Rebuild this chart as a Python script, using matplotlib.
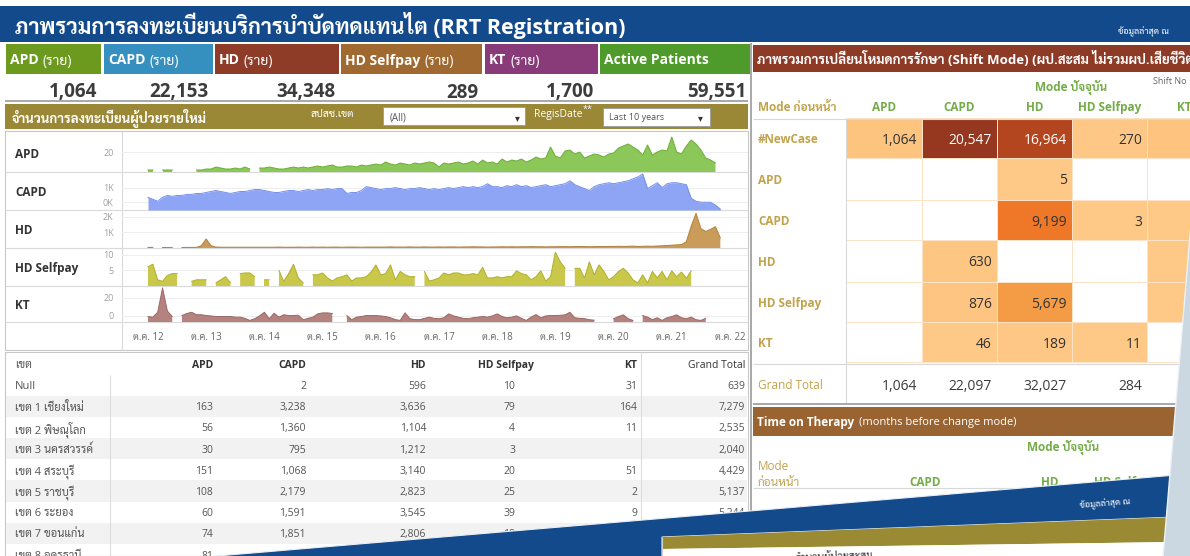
import numpy as np
import matplotlib
matplotlib.use('Agg')
import matplotlib.pyplot as plt
from matplotlib import font_manager
from matplotlib.colors import LinearSegmentedColormap, Normalize
from matplotlib.patches import Rectangle, Polygon

nan = np.nan

# ---------------- data ----------------
kpi_names = ['APD', 'CAPD', 'HD', 'HD Selfpay', 'KT', 'Active Patients']
kpi_values = ['1,064', '22,153', '34,348', '289', '1,700', '59,551']
kpi_colors = ['#6b9a1f', '#3590c0', '#8e3b27', '#a0692f', '#893a78', '#4e9a2a']

# monthly new registrations, first point = Oct 2012
apd = [2, 2, nan, 2, 2, 2, nan, nan, 1, nan, 2, 2,
       3, 3, 5, 4, 3, 3, 4, 3, 5, 3, nan, 4,
       4, 5, 4, 3, 3, 4, 5, 4, 5, 4, 5, 6,
       5, 6, 7, 5, 5, 6, 6, 5, 7, 6, 7, 8,
       7, 10, 8, 7, 9, 8, 7, 9, 8, 9, 10, 9,
       5, 9, 8, 9, 10, 8, 9, 11, 8, 12, 9, 10,
       8, 13, 10, 12, 11, 13, 10, 12, 15, 13, 14, 25,
       16, 14, 21, 22, 18, 20, 14, 16, 18, 17, 15, 18,
       19, 24, 26, 28, 25, 22, 17, 27, 17, 20, 22, 21,
       35, 20, 18, 26, 32, 28, 22, 14, 12, 9]
capd = [650, 550, 450, 650, 750, 700, 750, 750, 800, 800, 850, 850,
        900, 950, 1000, 950, 900, 850, 900, 950, 950, 1000, 1050, 1050,
        1000, 950, 900, 900, 950, 1000, 1000, 950, 1000, 1050, 1000, 1050,
        1050, 1100, 1050, 1100, 1100, 850, 900, 900, 1000, 1200, 1150, 1100,
        1050, 1100, 1100, 1150, 1100, 1050, 1100, 1100, 1150, 1100, 1050, 1100,
        1050, 1100, 1150, 1100, 1150, 1200, 1150, 1200, 1150, 1200, 1350, 1200,
        1200, 1150, 1250, 1200, 1300, 1200, 1250, 1150, 1200, 1250, 1300, 1200,
        1250, 1300, 1350, 1500, 1300, 1200, 1100, 1000, 1200, 1300, 1350, 1400,
        1350, 1400, 1450, 1500, 1600, 1700, 1850, 1100, 1250, 1400, 1150, 1350,
        1400, 1400, 1350, 1300, 600, 450, 400, 400, 400, 250, 50]
hd = [40, 40, nan, 30, 30, 40, nan, 30, 40, 40, 40, 150,
      580, 150, 60, 50, 50, 50, 50, 50, 50, 50, 50, 50,
      50, 50, 50, 60, 50, 50, 50, 60, 50, 50, 60, 50,
      60, 50, 60, 60, 50, 60, 60, 60, 50, 60, 60, 60,
      60, 60, 70, 60, 60, 60, 70, 60, 60, 70, 60, 60,
      70, 60, 70, 70, 60, 70, 70, 80, 70, 70, 60, 70,
      70, 80, 70, 80, 70, 80, 80, 90, 80, 80, 70, 80,
      80, 90, 90, 80, 90, 100, 90, 80, 90, 100, 90, 100,
      100, 110, 100, 110, 120, 100, 110, 120, 110, 130, 140, 160,
      180, 200, 220, 400, 1400, 2230, 1250, 1060, 1200, 1370, 650]
hd_selfpay = [6.2, 7, 2, 1.5, 3.4, 4, 4, nan, nan, 1.5, 2, 2,
              2, nan, 1, 2, 3, 1, nan, 4, 4.2, 4.2, 3, nan,
              2, 2, nan, 5, 1.5, 4, 7, 2.6, 1, nan, 3.6, 3.6,
              4.2, 2.6, 1.6, 2.6, 3, 3.6, 1.6, 2.6, 2.6, 3, 4.5, 6.8,
              3.6, 4, 6.8, 2, 4.7, 3.6, 3, 3, nan, 4.7, 1.6, 2,
              2.6, 4.2, 3.6, 4.2, 4.2, 3.6, 3.6, 4, 3.6, 6, 2.6, 2.6,
              3, 2.6, 3, 3, 4.9, 4, 3.6, 2, 3, 4.9, 1.6, 3,
              10.9, 7.8, 5.7, nan, 5.7, 5.7, 2.6, 7.8, 3.6, 6.8, 4.7, 2,
              3, 4.7, 5.7, 4.2, 2, 1, 3.6, 1, 4.7, 2.6, 4.7, 2,
              4.9, 3, 4.5, 2.5, 4.9]
kt = [4.5, 4, 8, 28, 9, 4.5, nan, 5.3, 7, 8, 6, 6,
      5.3, 5, 4.5, 4.5, 4.5, 4.5, 4, 4, 3, 1.3, 2.7, 5,
      8, 2.7, 7.2, 4, 6, 5.3, 5.3, 5.6, 1.9, 3, 4, 6.7,
      7.5, 7.5, 7, nan, nan, 5.3, 1.9, 4, 4.5, 5.3, 5.3, 5.3,
      5, 4.5, 3.5, 2, 1.3, 7.5, 2.7, 2, 1.9, 3, 4, 3,
      2.7, 3.5, 6.7, 5, 4, 3, 2.7, 3.5, 4, 4.5, 4, 5,
      6.7, 4.5, 3.5, 4, 5, 3, 1.3, 4, 6.1, 3.5, 5, 5.3,
      5.3, 5.5, 5.9, 8, 3.5, 3, 2.7, 1.9, 1.5, nan, nan, nan,
      2.7, 4.5, 5.9, 2.7, 1.3, nan, 5.3, 4, 1.9, 3.5, 1.3, 3.5,
      4.5, 5.9, 3.5, 2.7, 4, 1.9, 1.3, 3]

spark_names = ['APD', 'CAPD', 'HD', 'HD Selfpay', 'KT']
spark_series = [apd, capd, hd, hd_selfpay, kt]
spark_fill = ['#86c450', '#889ff5', '#c79750', '#c6c540', '#b07c78']
spark_line = ['#6cad36', '#7390ec', '#b4803a', '#b0af2c', '#9a6864']
spark_top = [38, 1900, 2375, 11.9, 28.8]
spark_ticks = [[20], [400, 1150], [1000, 2000], [5, 10], [5, 20]]
spark_ticklbl = [['20'], ['0K', '1K'], ['1K', '2K'], ['5', '10'], ['0', '20']]
year_ticks = [0, 12, 24, 36, 48, 60, 72, 84, 96, 108, 120]
year_lbls = ['ต.ค. %d' % y for y in range(12, 23)]

# region table
tbl_region = ['Null', 'เขต 1 เชียงใหม่', 'เขต 2 พิษณุโลก', 'เขต 3 นครสวรรค์', 'เขต 4 สระบุรี',
              'เขต 5 ราชบุรี', 'เขต 6 ระยอง', 'เขต 7 ขอนแก่น', 'เขต 8 อุดรธานี']
tbl_apd = ['', '163', '56', '30', '151', '108', '60', '74', '81']
tbl_capd = ['2', '3,238', '1,360', '795', '1,068', '2,179', '1,591', '1,851', '1,640']
tbl_hd = ['596', '3,636', '1,104', '1,212', '3,140', '2,823', '3,545', '2,806', '2,311']
tbl_selfpay = ['10', '79', '4', '3', '20', '25', '39', '18', '12']
tbl_kt = ['31', '164', '11', '', '51', '2', '9', '23', '40']
tbl_total = ['639', '7,279', '2,535', '2,040', '4,429', '5,137', '5,244', '4,772', '4,084']

# shift mode matrix (rows: previous mode, cols: current mode)
shift_rows = ['#NewCase', 'APD', 'CAPD', 'HD', 'HD Selfpay', 'KT']
shift_cols = ['APD', 'CAPD', 'HD', 'HD Selfpay', 'KT']
shift_vals = [[1064, 20547, 16964, 270, 1430],
              [nan, nan, 5, nan, nan],
              [nan, nan, 9199, 3, 60],
              [nan, 630, nan, nan, 40],
              [nan, 876, 5679, nan, 30],
              [nan, 46, 189, 11, nan]]
shift_total = ['1,064', '22,097', '32,027', '284', '1,560']

# ---------------- fonts ----------------
entries = font_manager.fontManager.ttflist


def has_bold(n):
    for f in entries:
        if f.name != n:
            continue
        w = f.weight
        if (isinstance(w, int) and w >= 600) or w in ('bold', 'semibold', 'demibold', 'heavy', 'black'):
            return True
    return False


latin = next((n for n in ['Noto Sans', 'Open Sans', 'Liberation Sans', 'Lato', 'DejaVu Sans']
              if has_bold(n)), 'DejaVu Sans')
thai = next((n for n in ['Sarabun', 'Noto Sans Thai', 'Noto Sans Thai UI', 'Bai Jamjuree', 'Athiti']
             if has_bold(n)), 'Noto Sans Thai')
plt.rcParams['font.family'] = [latin, thai, 'DejaVu Sans']

W, H = 1190, 556
fig = plt.figure(figsize=(W / 100, H / 100), dpi=100)
fig.patch.set_facecolor('white')
ax = fig.add_axes([0, 0, 1, 1])
ax.set_xlim(0, W)
ax.set_ylim(H, 0)
ax.axis('off')
renderer = fig.canvas.get_renderer()


def box(x0, y0, x1, y1, fc, ec='none', lw=0, z=1):
    ax.add_patch(Rectangle((x0, y0), x1 - x0, y1 - y0, facecolor=fc,
                           edgecolor=ec, linewidth=lw, zorder=z))


def line(x0, y0, x1, y1, c='#d6d6d6', lw=0.8, z=2):
    ax.plot([x0, x1], [y0, y1], color=c, lw=lw, zorder=z, solid_capstyle='butt')


def T(x, y, s, size=8, color='#333333', weight='normal', ha='left', va='center_baseline', z=3, **kw):
    return ax.text(x, y, s, fontsize=size, color=color, fontweight=weight,
                   ha=ha, va=va, zorder=z, **kw)


def after(t, gap=3):
    return t.get_window_extent(renderer).x1 + gap


def px_axes(x0, y0, x1, y1):
    return fig.add_axes([x0 / W, 1 - y1 / H, (x1 - x0) / W, (y1 - y0) / H])


# ---------------- title bar ----------------
box(0, 6, W, 42, '#134a8c')
T(15, 23, 'ภาพรวมการลงทะเบียนบริการบำบัดทดแทนไต (RRT Registration)', size=15.5,
  color='white', weight='bold')
T(1118, 30, 'ข้อมูลล่าสุด ณ', size=6.5, color='white')

# ---------------- KPI tiles ----------------
kpi_left = [6, 104, 215, 341, 485, 600]
kpi_right = [101, 213, 339, 482, 598, 750]
for i, nm in enumerate(kpi_names):
    box(kpi_left[i], 44, kpi_right[i], 74, kpi_colors[i])
    t = T(kpi_left[i] + 4, 59, nm, size=10, color='white', weight='bold')
    if nm != 'Active Patients':
        T(after(t, 4), 59, '(ราย)', size=10, color='white')
    T(kpi_right[i] - 4, 90, kpi_values[i], size=13.5, color='#3c3c3c', ha='right',
      weight='bold')
line(5, 101, 748, 101, c='#9a9a9a', lw=1.2)

# ---------------- new registration panel ----------------
box(5, 104, 748, 129, '#9b8836')
T(12, 116, 'จำนวนการลงทะเบียนผู้ป่วยรายใหม่', size=9.5, color='white', weight='bold')
T(311, 113, 'สปสช.เขต', size=7.5, color='white')
box(383, 107, 525, 125, 'white', ec='#9a9a9a', lw=0.6, z=2)
T(390, 116, '(All)', size=7, color='#555555')
T(517, 117, '▾', size=7, color='#333333', ha='center', family='DejaVu Sans')
t = T(534, 113, 'RegisDate', size=7.5, color='white')
T(after(t, 0), 108, '**', size=6.5, color='white')
box(603, 108, 710, 126, 'white', ec='#9a9a9a', lw=0.6, z=2)
T(609, 117, 'Last 10 years', size=6.5, color='#555555')
T(700, 117, '▾', size=7, color='#333333', ha='center', family='DejaVu Sans')

box(5, 131, 748, 350, 'white', ec='#c8c8c8', lw=0.8, z=0.5)
spark_rows = [(133, 172), (172, 210), (210, 248), (248, 286), (286, 322)]
for (y0, y1) in spark_rows[1:]:
    line(5, y0, 748, y0, c='#dadada')
line(5, 322, 748, 322, c='#dadada')
line(122, 131, 122, 350, c='#dadada')

for i, (y0, y1) in enumerate(spark_rows):
    T(15, (y0 + y1) / 2, spark_names[i], size=8.5, color='#333333', weight='bold')
    sa = px_axes(122, y0 + 1, 748, y1)
    sa.set_facecolor('none')
    vals = np.array(spark_series[i], dtype=float)
    m = np.arange(len(vals))
    sa.fill_between(m, 0, vals, color=spark_fill[i], lw=0, alpha=0.95)
    sa.plot(m, vals, color=spark_line[i], lw=0.7)
    sa.set_xlim((122 - 148) / 4.85, (748 - 148) / 4.85)
    sa.set_ylim(0, spark_top[i])
    sa.set_yticks(spark_ticks[i])
    sa.set_yticklabels(spark_ticklbl[i])
    sa.tick_params(axis='y', length=0, pad=6, labelsize=6.5, labelcolor='#a0a0a0')
    sa.grid(axis='y', color='#eeeeee', lw=0.7)
    sa.set_axisbelow(True)
    for s in sa.spines.values():
        s.set_visible(False)
    if i == len(spark_rows) - 1:
        sa.set_xticks(year_ticks)
        sa.set_xticklabels(year_lbls)
        sa.tick_params(axis='x', length=0, pad=7, labelsize=7, labelcolor='#666666')
    else:
        sa.set_xticks([])

# ---------------- region table ----------------
box(5, 352, 748, 556, 'white', ec='#c8c8c8', lw=0.8, z=0.5)
tbl_cols = [tbl_apd, tbl_capd, tbl_hd, tbl_selfpay, tbl_kt, tbl_total]
tbl_heads = ['APD', 'CAPD', 'HD', 'HD Selfpay', 'KT', 'Grand Total']
head_right = [213, 306, 426, 534, 637, 745]
val_right = [213, 306, 426, 515, 637, 745]
row_y0, row_h = 385, 21.2
for r in range(len(tbl_region)):
    yc = row_y0 + r * row_h
    if r % 2 == 1:
        box(6, yc - row_h / 2, 747, yc + row_h / 2, '#f2f2f2', z=0.6)
    T(15, yc, tbl_region[r], size=8, color='#555555')
    for c, col in enumerate(tbl_cols):
        T(val_right[c], yc, col[r], size=7.5, color='#555555', ha='right')
T(15, 364, 'เขต', size=8, color='#555555')
for c, hname in enumerate(tbl_heads):
    T(head_right[c], 364, hname, size=7.5, color='#333333',
      weight='normal' if hname == 'Grand Total' else 'bold', ha='right')
line(110, 375, 110, 556, c='#dddddd')
line(641, 352, 641, 556, c='#dddddd')

# ---------------- shift mode panel ----------------
line(751, 43, 751, 556, c='#a8a8a8', lw=1.4)
box(753, 45, W, 72, '#8d3a26')
T(757, 58, 'ภาพรวมการเปลี่ยนโหมดการรักษา (Shift Mode) (ผป.สะสม ไม่รวมผป.เสียชีวิต)',
  size=9.5, color='white', weight='bold')
gold = '#c2a34c'
green = '#74ad48'
T(1071, 85, 'Mode ปัจจุบัน', size=8.5, color=green, weight='bold', ha='center')
T(1153, 80, 'Shift No', size=6.5, color='#666666')
T(758, 106, 'Mode ก่อนหน้า', size=8.5, color=gold, weight='bold')
col_edges = [846, 922, 997, 1072, 1147, 1222]
row_edges = [118, 158, 200, 240, 282, 322, 362]
for j, cname in enumerate(shift_cols):
    T((col_edges[j] + col_edges[j + 1]) / 2, 106, cname, size=8.5, color=green,
      weight='bold', ha='center')
line(753, 119, W, 119, c='#d8d8d8')
line(846, 119, 846, 404, c='#d8d8d8')

cmap = LinearSegmentedColormap.from_list('rrt', [
    (0.0, '#fec886'), (0.1, '#fdc07b'), (0.28, '#f39b43'), (0.45, '#ee7727'),
    (0.83, '#b4461f'), (1.0, '#963720')])
norm = Normalize(0, 20547)
mat = np.ma.masked_invalid(np.array(shift_vals, dtype=float))
ax.pcolormesh(col_edges, row_edges, mat, cmap=cmap, norm=norm,
              edgecolors='#fde3c6', linewidth=0.6, zorder=1.5)
for i, rname in enumerate(shift_rows):
    yc = (row_edges[i] + row_edges[i + 1]) / 2
    T(758, yc, rname, size=8.5, color=gold, weight='bold')
    for j in range(len(shift_cols)):
        v = shift_vals[i][j]
        # the last column runs past the right edge of the view
        if np.isnan(v) or col_edges[j + 1] > W:
            continue
        T(col_edges[j + 1] - 5, yc, '{:,}'.format(int(v)), size=10,
          color='white' if v > 12000 else '#333333', ha='right')
line(753, 364, W, 364, c='#d8d8d8')
T(758, 384, 'Grand Total', size=8.5, color=gold)
for j, s in enumerate(shift_total):
    if col_edges[j + 1] > W:
        continue
    T(col_edges[j + 1] - 5, 384, s, size=10, color='#3c3c3c', ha='right')
line(753, 404, 1176, 404, c='#a8a8a8', lw=1.4)

# ---------------- time on therapy ----------------
box(753, 407, 1176, 436, '#9a6432')
t = T(757, 421, 'Time on Therapy', size=8.5, color='white', weight='bold')
T(after(t, 5), 421, '(months before change mode)', size=8, color='white')
T(1063, 445, 'Mode ปัจจุบัน', size=8.5, color=green, weight='bold', ha='center')
T(758, 465, 'Mode', size=8.5, color=gold)
T(758, 481, 'ก่อนหน้า', size=8.5, color=gold)
for cname, xc in zip(['CAPD', 'HD', 'HD Selfpay'], [925, 1050, 1126]):
    T(xc, 481, cname, size=8.5, color=green, weight='bold', ha='center')
line(753, 488, 1176, 488, c='#d8d8d8')

# ---------------- stacked screenshot overlay ----------------
ax.add_patch(Polygon([(205, 557), (1176, 475), (1176, 517), (662, 537), (662, 557)],
                     closed=True, facecolor='#134a8c', edgecolor='#e8eef5', lw=0.8, zorder=10))
ax.add_patch(Polygon([(662, 537), (1176, 517), (1176, 542), (662, 549)],
                     closed=True, facecolor='#9b8a34', edgecolor='none', zorder=10))
ax.add_patch(Polygon([(662, 549), (1176, 542), (1176, 557), (662, 557)],
                     closed=True, facecolor='white', edgecolor='none', zorder=10))
line(662, 537, 662, 557, c='#d0d0d0', lw=0.8, z=10.5)
T(1105, 500, 'ข้อมูลล่าสุด ณ', size=6.5, color='white', ha='center', z=11, rotation=4.5)
T(795, 554, 'จำนวนผู้ป่วยสะสม', size=7.5, color='#333333', z=11, rotation=2)
ax.add_patch(Polygon([(1192, 212), (1163, 557), (1192, 557)], closed=True,
                     facecolor='#cbd7e1', edgecolor='#eef2f6', lw=1.0, zorder=12))

fig.savefig('out.png', dpi=100, facecolor='white')
